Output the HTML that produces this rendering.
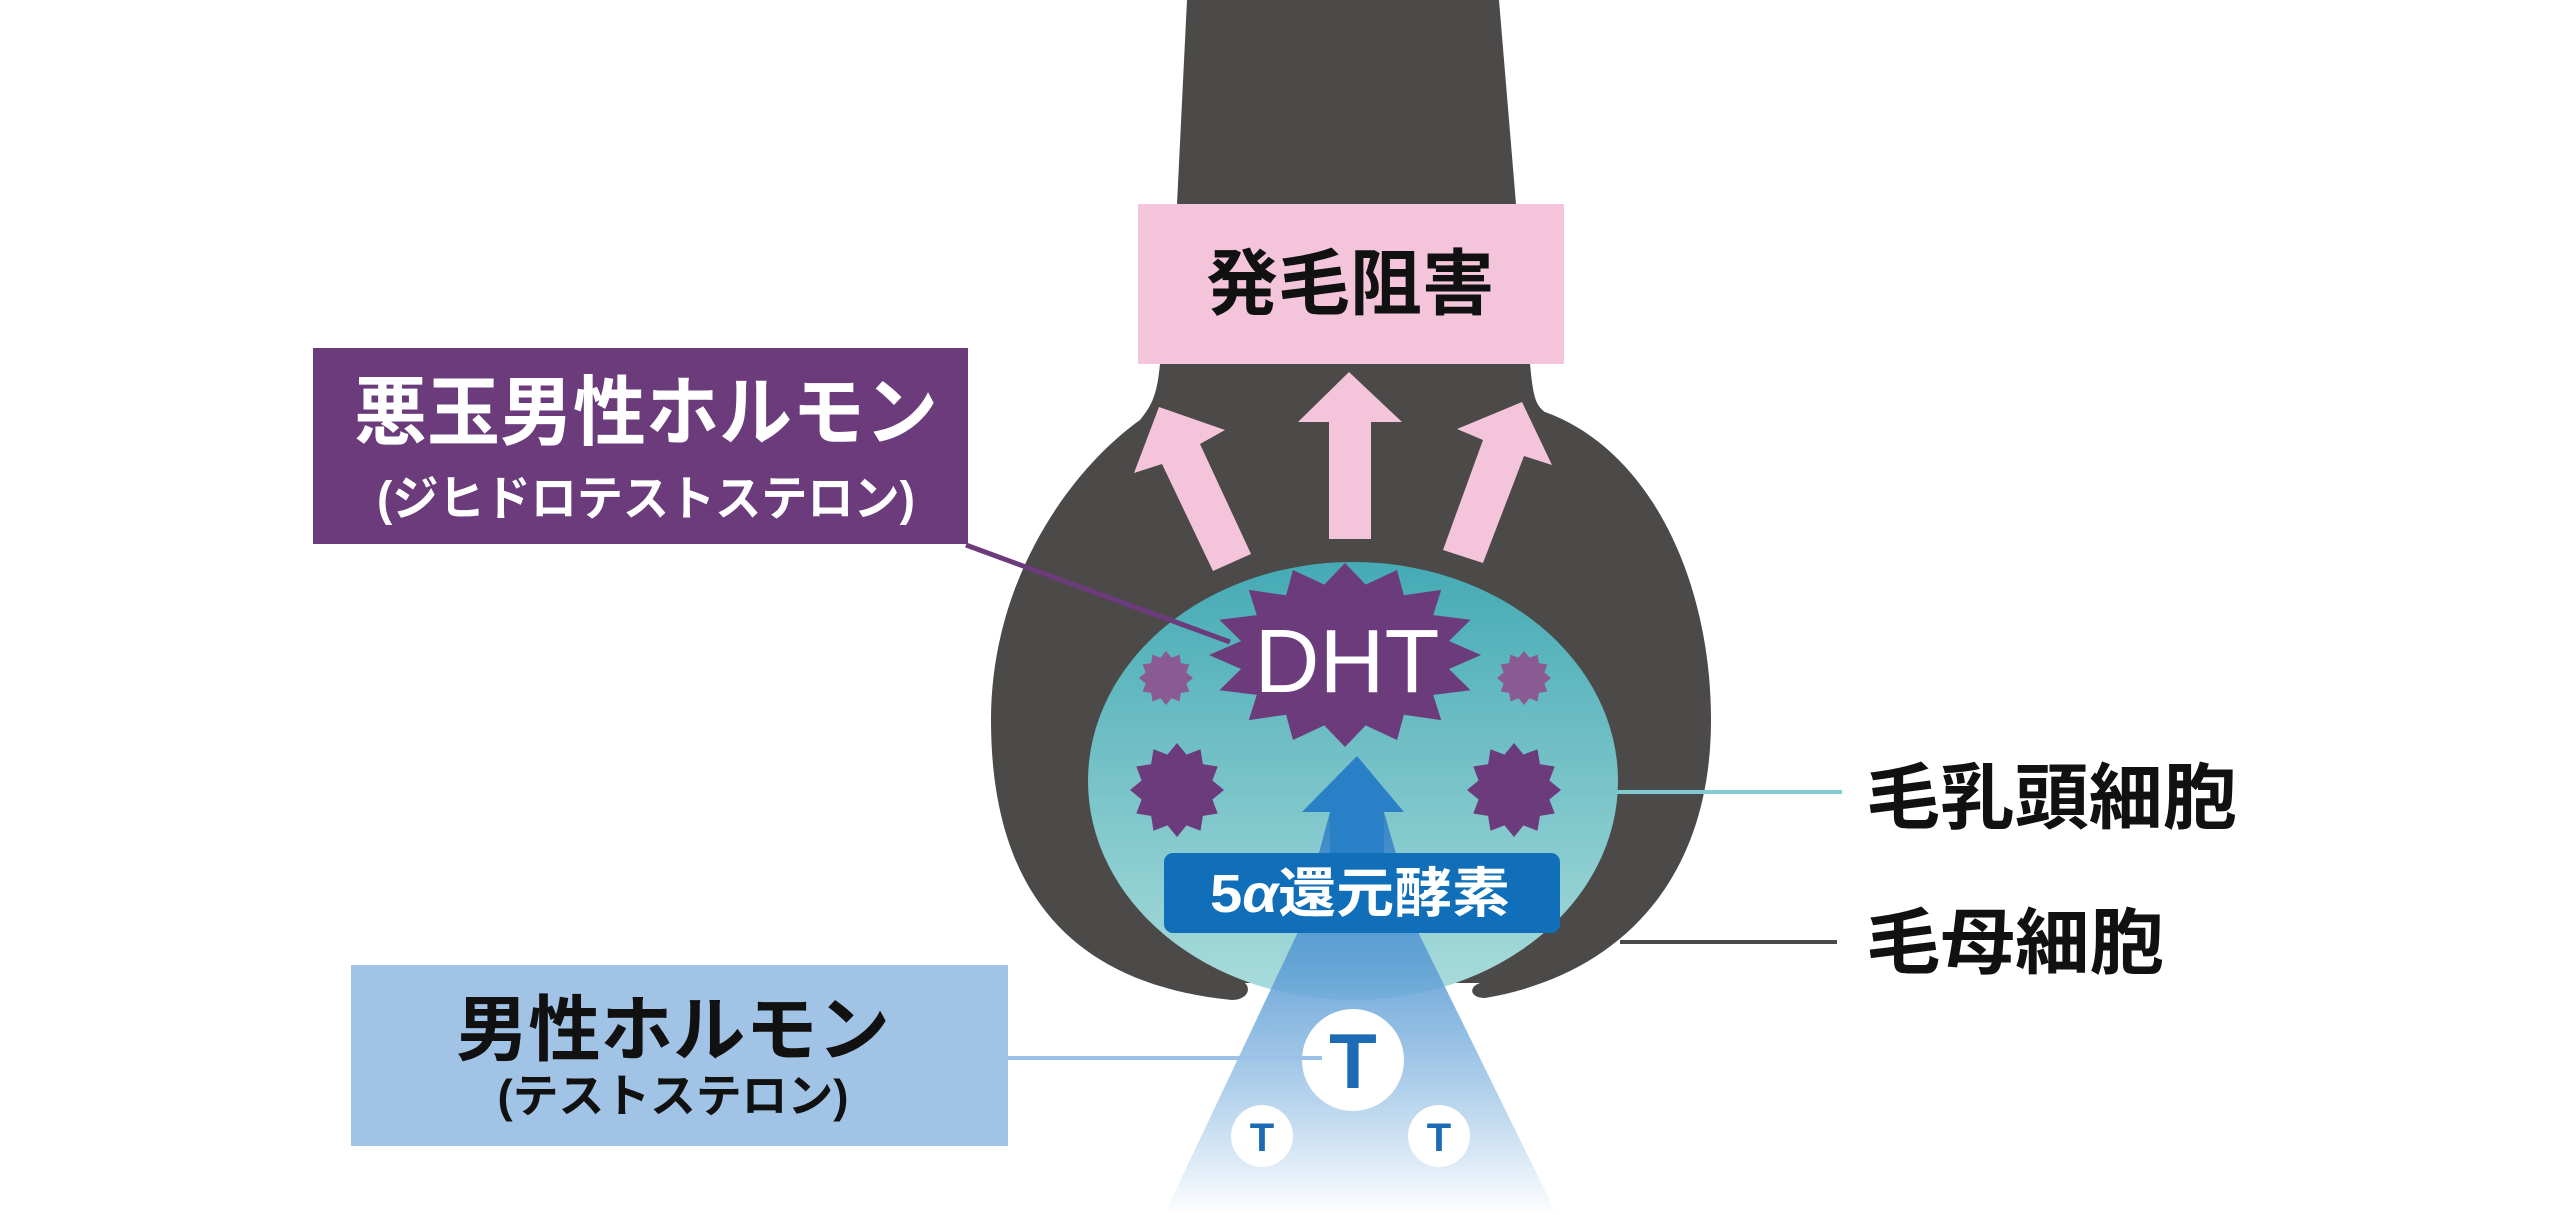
<!DOCTYPE html>
<html><head><meta charset="utf-8"><style>
html,body{margin:0;padding:0;background:#fff;}
svg{display:block;}
text{font-family:"Liberation Sans","Noto Sans CJK JP",sans-serif;font-weight:bold;}
</style></head><body>
<svg width="2561" height="1215" viewBox="0 0 2561 1215" xmlns="http://www.w3.org/2000/svg">
<defs>
<linearGradient id="cy" x1="0" y1="562" x2="0" y2="1000" gradientUnits="userSpaceOnUse">
<stop offset="0" stop-color="#45aab4"/><stop offset="1" stop-color="#aadcdc"/></linearGradient>
<linearGradient id="cone" x1="0" y1="780" x2="0" y2="1215" gradientUnits="userSpaceOnUse">
<stop offset="0" stop-color="#2a7cc2" stop-opacity="0.95"/>
<stop offset="0.45" stop-color="#5e9ed6" stop-opacity="0.85"/>
<stop offset="1" stop-color="#ffffff" stop-opacity="1"/></linearGradient>
</defs>
<!-- dark bulb -->
<path fill="#4b4a48" d="M1187,0 L1499,0 L1516,204 L1530,364 C1533,395 1535,405 1545,412 C1650,450 1711,580 1711,720 C1711,880 1620,975 1485,998 C1470,998 1468,987 1480,983 L1245,983 C1252,990 1246,1000 1232,1000 C1080,985 991,900 991,720 C991,580 1070,470 1140,420 C1152,405 1157,395 1160,364 L1177,204 Z"/>
<ellipse cx="1353" cy="781" rx="265" ry="219" fill="url(#cy)"/>
<!-- cone -->
<polygon fill="url(#cone)" points="1330,812 1384,812 1419,934 1557,1215 1164,1215 1297,934"/>
<!-- pink box -->
<rect x="1138" y="204" width="426" height="160" fill="#f4c5da"/>
<text x="1350" y="309" font-size="72" text-anchor="middle" fill="#111">発毛阻害</text>
<!-- pink arrows -->
<polygon fill="#f4c5da" points="1329,539 1371,539 1371,422 1402,422 1349,372 1298,422 1329,422"/>
<polygon fill="#f4c5da" points="1213,571 1251,554 1200,444 1225,430 1159,407 1134,473 1162,464"/>
<polygon fill="#f4c5da" points="1483,563 1443,550 1483,440 1457,429 1522,402 1552,465 1524,456"/>
<!-- stars -->
<g id="stars"></g>
<polygon id="dht" fill="#6b3b7c" points=""/>
<text x="1347" y="692" font-size="90" text-anchor="middle" fill="#fff" style="font-weight:normal">DHT</text>
<!-- blue arrow -->
<polygon fill="#2a80c6" points="1330,860 1384,860 1384,812 1404,812 1357,756 1302,812 1330,812"/>
<!-- enzyme box -->
<rect x="1164" y="853" width="396" height="80" rx="9" fill="#106fb8"/>
<text x="1360" y="912" font-size="54" text-anchor="middle" fill="#fff" textLength="300" lengthAdjust="spacingAndGlyphs">5<tspan font-style="italic">α</tspan>還元酵素</text>
<!-- T circles -->
<circle cx="1353" cy="1060" r="51" fill="#fff"/>
<text x="1353" y="1088" font-size="78" text-anchor="middle" fill="#1b6cb4">T</text>
<circle cx="1262" cy="1136" r="31" fill="#fff"/>
<text x="1262" y="1151" font-size="40" text-anchor="middle" fill="#1b6cb4">T</text>
<circle cx="1439" cy="1136" r="31" fill="#fff"/>
<text x="1439" y="1151" font-size="40" text-anchor="middle" fill="#1b6cb4">T</text>
<!-- connectors -->
<line x1="966" y1="545" x2="1230" y2="642" stroke="#6b3b7c" stroke-width="5"/>
<line x1="1617" y1="792" x2="1842" y2="792" stroke="#7fcdd3" stroke-width="4"/>
<line x1="1620" y1="942" x2="1837" y2="942" stroke="#4b4a48" stroke-width="4"/>
<line x1="1008" y1="1058" x2="1322" y2="1058" stroke="#9dc1e6" stroke-width="4"/>
<!-- purple box -->
<rect x="313" y="348" width="655" height="196" fill="#6b3b7c"/>
<text x="646" y="439" font-size="76" text-anchor="middle" fill="#fff" textLength="584" lengthAdjust="spacingAndGlyphs">悪玉男性ホルモン</text>
<text x="646" y="515" font-size="48" text-anchor="middle" fill="#fff" textLength="538" lengthAdjust="spacingAndGlyphs">(ジヒドロテストステロン)</text>
<!-- blue box -->
<rect x="351" y="965" width="657" height="181" fill="#a0c3e6"/>
<text x="673" y="1055" font-size="72" text-anchor="middle" fill="#111" textLength="434" lengthAdjust="spacingAndGlyphs">男性ホルモン</text>
<text x="673" y="1112" font-size="46" text-anchor="middle" fill="#111" textLength="351" lengthAdjust="spacingAndGlyphs">(テストステロン)</text>
<!-- right labels -->
<text x="1866" y="823" font-size="72" fill="#111" textLength="371" lengthAdjust="spacingAndGlyphs">毛乳頭細胞</text>
<text x="1866" y="968" font-size="72" fill="#111" textLength="298" lengthAdjust="spacingAndGlyphs">毛母細胞</text>
<script>
function star(cx,cy,rx,ry,n,inner){var p=[];for(var i=0;i<2*n;i++){var a=Math.PI*i/n-Math.PI/2;var f=i%2?inner:1;p.push((cx+rx*f*Math.cos(a)).toFixed(1)+','+(cy+ry*f*Math.sin(a)).toFixed(1));}return p.join(' ');}
document.getElementById('dht').setAttribute('points',star(1345,655,136,92,16,0.78));
var g=document.getElementById('stars');var ns='http://www.w3.org/2000/svg';
[[1166,678,27,'#8a5a93'],[1524,678,27,'#8a5a93'],[1177,790,47,'#6b3b7c'],[1514,790,47,'#6b3b7c']].forEach(function(s){var e=document.createElementNS(ns,'polygon');e.setAttribute('points',star(s[0],s[1],s[2],s[2],12,0.78));e.setAttribute('fill',s[3]);g.appendChild(e);});
</script>
</svg>
</body></html>
